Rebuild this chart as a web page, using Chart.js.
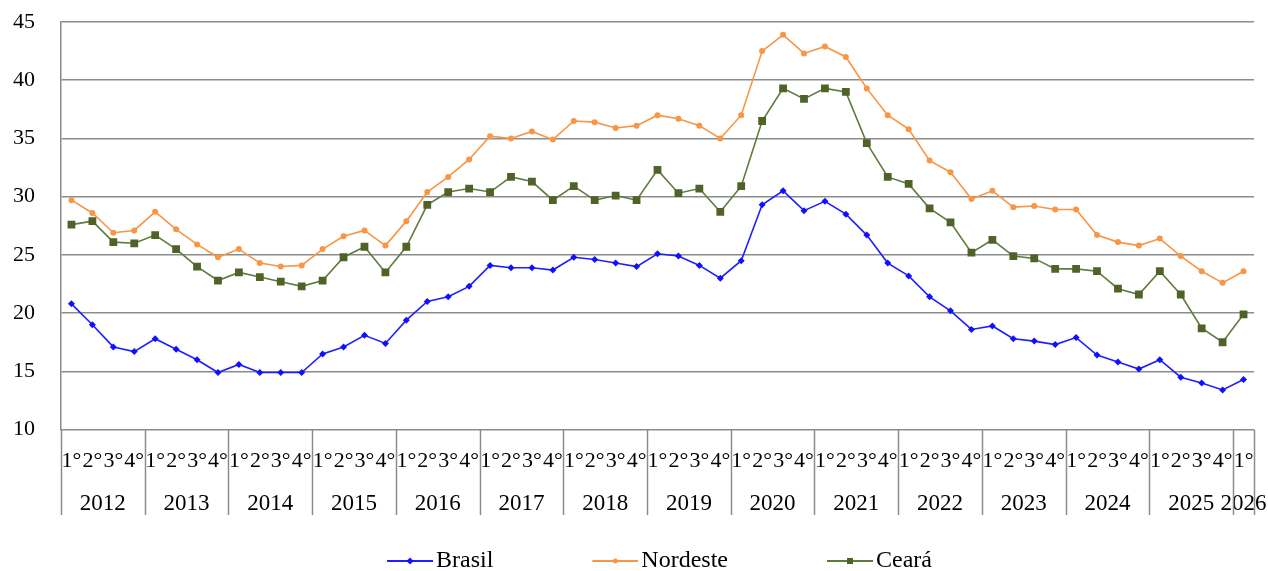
<!DOCTYPE html>
<html>
<head>
<meta charset="utf-8">
<script src="https://cdn.jsdelivr.net/npm/chart.js@4.4.1/dist/chart.umd.min.js"></script>
<style>
  html, body { margin: 0; padding: 0; background: #fff; }
  #wrap { width: 1268px; height: 571px; position: relative; }
</style>
</head>
<body>
<div id="wrap"><canvas id="chart-line"></canvas></div>
<script>
// dados trimestrais (1° tri 2012 até 1° tri 2026)
const years = ["2012", "2013", "2014", "2015", "2016", "2017", "2018",
  "2019", "2020", "2021", "2022", "2023", "2024", "2025", "2026"];
const quarters = ["1°", "2°", "3°", "4°"];

const brasil = [
  20.8, 19.0, 17.1, 16.7, 17.8, 16.9, 16.0, 14.9, 15.6, 14.9, 14.9, 14.9,
  16.5, 17.1, 18.1, 17.4, 19.4, 21.0, 21.4, 22.3, 24.1, 23.9, 23.9, 23.7,
  24.8, 24.6, 24.3, 24.0, 25.1, 24.9, 24.1, 23.0, 24.5, 29.3, 30.5, 28.8,
  29.6, 28.5, 26.7, 24.3, 23.2, 21.4, 20.2, 18.6, 18.9, 17.8, 17.6, 17.3,
  17.9, 16.4, 15.8, 15.2, 16.0, 14.5, 14.0, 13.4, 14.3,
];
const nordeste = [
  29.7, 28.6, 26.9, 27.1, 28.7, 27.2, 25.9, 24.8, 25.5, 24.3, 24.0, 24.1,
  25.5, 26.6, 27.1, 25.8, 27.9, 30.4, 31.7, 33.2, 35.2, 35.0, 35.6, 34.9,
  36.5, 36.4, 35.9, 36.1, 37.0, 36.7, 36.1, 35.0, 37.0, 42.5, 43.9, 42.3,
  42.9, 42.0, 39.3, 37.0, 35.8, 33.1, 32.1, 29.8, 30.5, 29.1, 29.2, 28.9,
  28.9, 26.7, 26.1, 25.8, 26.4, 24.9, 23.6, 22.6, 23.6,
];
const ceara = [
  27.6, 27.9, 26.1, 26.0, 26.7, 25.5, 24.0, 22.8, 23.5, 23.1, 22.7, 22.3,
  22.8, 24.8, 25.7, 23.5, 25.7, 29.3, 30.4, 30.7, 30.4, 31.7, 31.3, 29.7,
  30.9, 29.7, 30.1, 29.7, 32.3, 30.3, 30.7, 28.7, 30.9, 36.5, 39.3, 38.4,
  39.3, 39.0, 34.6, 31.7, 31.1, 29.0, 27.8, 25.2, 26.3, 24.9, 24.7, 23.8,
  23.8, 23.6, 22.1, 21.6, 23.6, 21.6, 18.7, 17.5, 19.9,
];

const yMin = 10;
const yMax = 45;
const yStep = 5;

const GRID_COLOR = "#8c8c8c";
const SERIF = "'Liberation Serif', 'Times New Roman', serif";

// rótulos das categorias: "1° 2012", "2° 2012", ...
const categories = years
  .flatMap((y) => quarters.map((q) => q + " " + y))
  .slice(0, brasil.length);

// centro de cada grupo de ano (em índice de categoria)
const yearCenters = years.map((y, k) => {
  const start = k * 4;
  const end = Math.min(start + 3, categories.length - 1);
  return (start + end) / 2;
});

// ícone da legenda: linha com marcador no meio
const LEGEND_BOX = 102;
function legendIcon(lineColor, markColor, mark) {
  const c = document.createElement("canvas");
  c.width = LEGEND_BOX + 18;
  c.height = 12;
  const g = c.getContext("2d");
  const x0 = c.width - 46;
  const cx = x0 + 23;
  const cy = 6;
  g.strokeStyle = lineColor;
  g.lineWidth = 2;
  g.beginPath();
  g.moveTo(x0, cy);
  g.lineTo(c.width, cy);
  g.stroke();
  g.fillStyle = markColor;
  g.beginPath();
  if (mark === "circle") {
    g.arc(cx, cy, 2.5, 0, Math.PI * 2);
  } else if (mark === "rect") {
    g.rect(cx - 3, cy - 3, 6, 6);
  } else {
    g.moveTo(cx, cy - 3.5);
    g.lineTo(cx + 3.5, cy);
    g.lineTo(cx, cy + 3.5);
    g.lineTo(cx - 3.5, cy);
    g.closePath();
  }
  g.fill();
  return c;
}

// separadores verticais entre os anos, abaixo do eixo
const yearSeparators = {
  id: "yearSeparators",
  afterDraw(chart) {
    const { ctx, chartArea, scales } = chart;
    const x = scales.x;
    const bottom = scales.x2.bottom;
    ctx.save();
    ctx.strokeStyle = GRID_COLOR;
    ctx.lineWidth = 1.5;
    const bounds = [];
    for (let i = 0; i < categories.length; i += 4) bounds.push(i);
    bounds.push(categories.length);
    bounds.forEach((b) => {
      const px = Math.round(x.getPixelForValue(b - 0.5)) + 0.5;
      ctx.beginPath();
      ctx.moveTo(px, chartArea.bottom);
      ctx.lineTo(px, bottom);
      ctx.stroke();
    });
    ctx.restore();
  },
};

// sem folga extra nas laterais dos eixos x
const noSidePadding = (scale) => {
  scale.paddingLeft = 0;
  scale.paddingRight = 0;
};

Chart.defaults.font.family = SERIF;
Chart.defaults.color = "#000";

const series = [
  { label: "Brasil", data: brasil, line: "#1f1fff", mark: "#1010ff", style: "rectRot", radius: 3.5, icon: "diamond" },
  { label: "Nordeste", data: nordeste, line: "#f79646", mark: "#f79646", style: "circle", radius: 3, icon: "circle" },
  { label: "Ceará", data: ceara, line: "#5f7a3c", mark: "#4f6228", style: "rect", radius: 5.5, icon: "rect" },
];

const ctx = document.getElementById("chart-line").getContext("2d");

new Chart(ctx, {
  type: "line",
  data: {
    labels: categories,
    datasets: series.map((s) => ({
      label: s.label,
      data: s.data,
      borderColor: s.line,
      backgroundColor: s.mark,
      borderWidth: 1.6,
      pointStyle: s.style,
      pointRadius: s.radius,
      pointBackgroundColor: s.mark,
      pointBorderColor: s.mark,
      pointBorderWidth: 0,
      tension: 0,
      fill: false,
    })),
  },
  plugins: [yearSeparators],
  options: {
    responsive: true,
    maintainAspectRatio: false,
    animation: false,
    layout: { padding: { left: 0, right: 14, top: 22, bottom: -12 } },
    scales: {
      y: {
        min: yMin,
        max: yMax,
        afterFit: (scale) => {
          scale.width = 61;
          scale.paddingTop = 0;
          scale.paddingBottom = 0;
        },
        ticks: {
          stepSize: yStep,
          padding: 26,
          font: { size: 22, lineHeight: 1.2 },
          color: "#000",
        },
        grid: { color: GRID_COLOR, lineWidth: 1.5, drawTicks: false },
        border: { display: true, color: GRID_COLOR, width: 1.5 },
      },
      x: {
        type: "category",
        offset: true,
        weight: 0,
        grid: { display: false, drawTicks: false, offset: true },
        border: { display: false },
        afterFit: noSidePadding,
        ticks: {
          autoSkip: false,
          maxRotation: 0,
          minRotation: 0,
          padding: 18,
          font: { size: 22, lineHeight: 1.2 },
          color: "#000",
          callback: (value, index) => quarters[index % 4],
        },
      },
      x2: {
        type: "linear",
        position: "bottom",
        weight: 1,
        min: -0.5,
        max: categories.length - 0.5,
        grid: { display: false, drawTicks: false },
        border: { display: false },
        afterBuildTicks: (scale) => {
          scale.ticks = yearCenters.map((v) => ({ value: v }));
        },
        afterFit: noSidePadding,
        ticks: {
          autoSkip: false,
          maxRotation: 0,
          minRotation: 0,
          padding: 0,
          font: { size: 23, lineHeight: 1 },
          color: "#000",
          callback: (value, index) => years[index],
        },
      },
    },
    plugins: {
      legend: {
        position: "bottom",
        labels: {
          usePointStyle: true,
          pointStyleWidth: LEGEND_BOX,
          padding: 34,
          font: { size: 24 },
          color: "#000",
          generateLabels: (chart) =>
            chart.data.datasets.map((ds, i) => ({
              text: ds.label,
              pointStyle: legendIcon(series[i].line, series[i].mark, series[i].icon),
              fillStyle: ds.borderColor,
              strokeStyle: ds.borderColor,
              lineWidth: 0,
              fontColor: "#000",
              hidden: false,
              datasetIndex: i,
            })),
        },
      },
      tooltip: { enabled: false },
    },
  },
});
</script>
</body>
</html>
